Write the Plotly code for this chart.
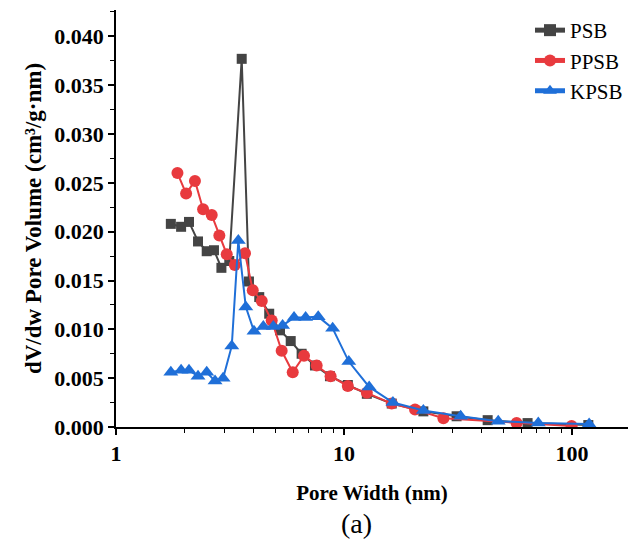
import plotly.graph_objects as go

psb_x = [1.74, 1.93, 2.09, 2.29, 2.50, 2.69, 2.90, 3.14, 3.56, 3.83, 4.25, 4.70, 5.24, 5.84, 6.52, 7.46, 8.68, 10.4, 12.6, 16.2, 22.3, 31.2, 42.7, 63.9, 118]
psb_y = [0.0208, 0.0205, 0.0210, 0.0190, 0.0180, 0.0181, 0.0163, 0.0170, 0.0377, 0.0149, 0.0133, 0.0116, 0.0099, 0.0088, 0.0075, 0.0063, 0.0052, 0.0043, 0.0034, 0.0024, 0.0016, 0.0011, 0.0007, 0.0004, 0.0002]

ppsb_x = [1.86, 2.03, 2.22, 2.41, 2.63, 2.84, 3.06, 3.32, 3.68, 3.98, 4.36, 4.82, 5.33, 5.96, 6.68, 7.59, 8.74, 10.4, 12.6, 16.2, 20.5, 27.3, 57.2, 99.7]
ppsb_y = [0.0260, 0.0239, 0.0252, 0.0223, 0.0217, 0.0196, 0.0177, 0.0166, 0.0178, 0.0140, 0.0129, 0.0109, 0.0078, 0.0056, 0.0073, 0.0063, 0.0052, 0.0042, 0.0035, 0.0024, 0.0018, 0.0009, 0.0004, 0.0001]

kpsb_x = [1.74, 1.93, 2.09, 2.29, 2.50, 2.72, 2.95, 3.22, 3.44, 3.71, 4.03, 4.43, 4.90, 5.38, 6.04, 6.79, 7.71, 8.92, 10.5, 12.9, 16.4, 22.3, 32.5, 47.5, 71.2, 119]
kpsb_y = [0.0056, 0.0058, 0.0058, 0.0052, 0.0056, 0.0047, 0.0050, 0.0083, 0.0191, 0.0123, 0.0098, 0.0103, 0.0103, 0.0104, 0.0112, 0.0112, 0.0113, 0.0101, 0.0067, 0.0041, 0.0025, 0.0017, 0.0011, 0.0006, 0.0004, 0.0003]

x_ticks = [1, 10, 100]
y_ticks = [0, 0.005, 0.01, 0.015, 0.02, 0.025, 0.03, 0.035, 0.04]

serif = "Liberation Serif, Times New Roman, serif"

fig = go.Figure()
fig.add_trace(go.Scatter(x=psb_x, y=psb_y, name="PSB", mode="lines+markers",
                         line=dict(color="#444444", width=2),
                         marker=dict(symbol="square", size=10, color="#444444")))
fig.add_trace(go.Scatter(x=ppsb_x, y=ppsb_y, name="PPSB", mode="lines+markers",
                         line=dict(color="#e83a3e", width=2),
                         marker=dict(symbol="circle", size=12, color="#e83a3e")))
fig.add_trace(go.Scatter(x=kpsb_x, y=kpsb_y, name="KPSB", mode="lines+markers",
                         line=dict(color="#1f6fd8", width=2),
                         marker=dict(symbol="triangle-up", size=13, color="#1f6fd8")))

fig.update_layout(
    width=630, height=543,
    margin=dict(l=116, r=2, t=10, b=116),
    plot_bgcolor="white", paper_bgcolor="white",
    font=dict(family=serif, color="black", size=16),
    showlegend=True,
    legend=dict(x=1.0, xanchor="right", y=1.0, yanchor="top",
                font=dict(family=serif, size=21, color="black"),
                bgcolor="rgba(0,0,0,0)", tracegroupgap=0, itemsizing="constant"),
    xaxis=dict(type="log", range=[0, 2.246], showgrid=False, zeroline=False,
               showline=True, linecolor="black", linewidth=1.5,
               ticks="outside", ticklen=6, tickwidth=1.5, tickcolor="black",
               tickvals=x_ticks, ticktext=["<b>%g</b>" % v for v in x_ticks],
               minor=dict(ticks="outside", ticklen=4, tickwidth=1.2, tickcolor="black",
                          tickvals=[2, 3, 4, 5, 6, 7, 8, 9, 20, 30, 40, 50, 60, 70, 80, 90, 200]),
               tickfont=dict(family=serif, size=22),
               title=dict(text="<b>Pore Width (nm)</b>", font=dict(family=serif, size=21), standoff=20)),
    yaxis=dict(range=[0, 0.0427], showgrid=False, zeroline=False,
               showline=True, linecolor="black", linewidth=1.5,
               ticks="outside", ticklen=6, tickwidth=1.5, tickcolor="black",
               tickvals=y_ticks, ticktext=["<b>%.3f</b>" % v for v in y_ticks],
               minor=dict(ticks="outside", ticklen=4, tickwidth=1.2, tickcolor="black",
                          tickvals=[0.0025, 0.0075, 0.0125, 0.0175, 0.0225, 0.0275, 0.0325, 0.0375, 0.0425]),
               tickfont=dict(family=serif, size=22),
               title=dict(text="<b>dV/dw Pore Volume (cm³/g·nm)</b>", font=dict(family=serif, size=23), standoff=6)),
    annotations=[dict(text="(a)", x=0.47, xref="paper", y=-0.231, yref="paper",
                      yanchor="middle", showarrow=False, font=dict(family=serif, size=28, color="black"))],
)

fig.write_html("out.html")
